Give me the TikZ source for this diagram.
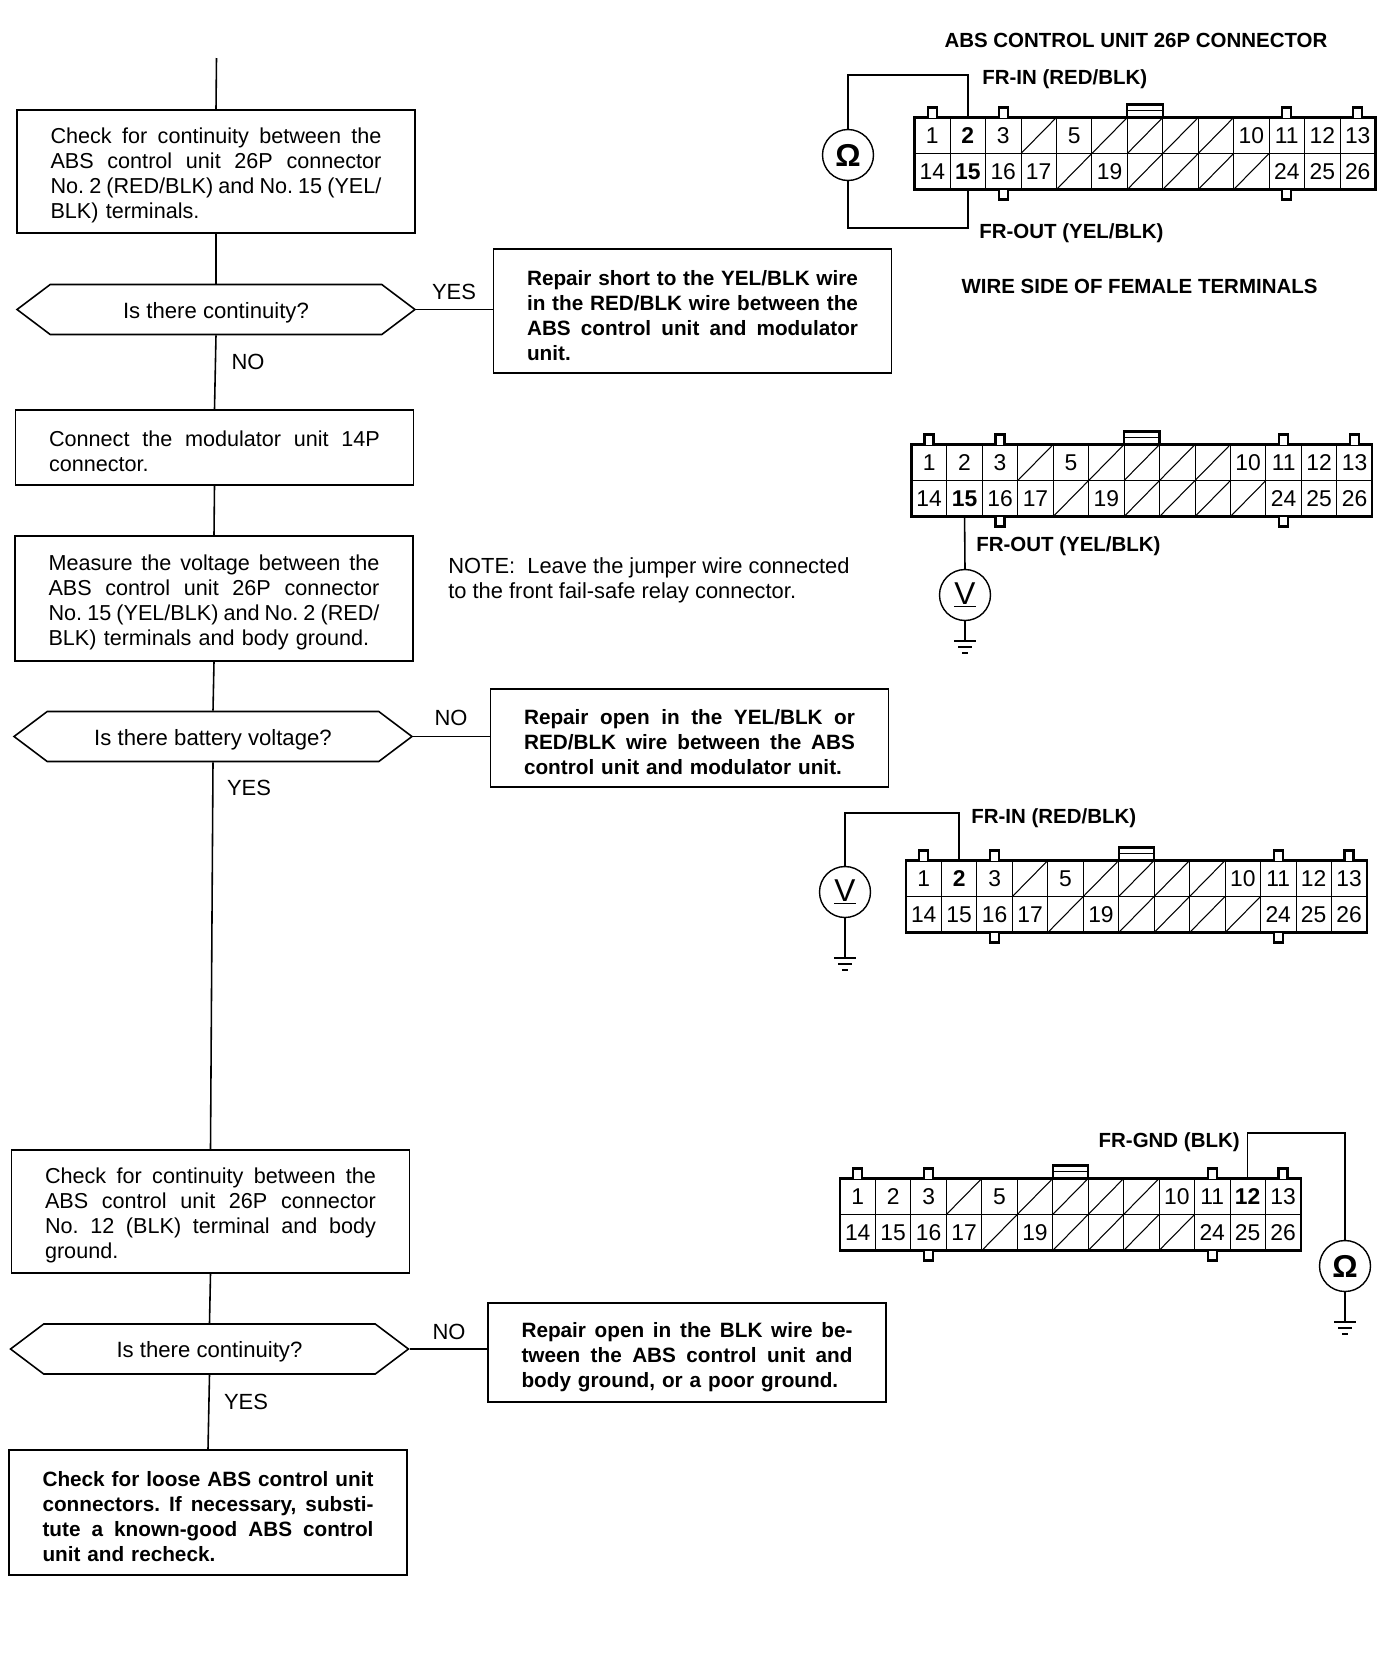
\documentclass[tikz,border=0pt]{standalone}
\usepackage{fontspec}
\setmainfont{Liberation Sans}
\usetikzlibrary{shapes.symbols}

\newcommand{\fl}[1]{\leavevmode\hbox to 6.62cm{\spaceskip=.28em plus 1em minus .1em #1}}

\tikzset{
  flowbox/.style={draw,line width=.9pt,minimum width=7.96cm,inner ysep=0pt,inner xsep=.67cm,text width=6.62cm,align=left,execute at begin node={\frenchspacing\rule{0pt}{13.5pt}},font=\fontsize{12.3}{14.2}\selectfont},
  fixbox/.style={flowbox,font=\fontsize{11.8}{14.2}\selectfont\bfseries},
  askbox/.style={draw,line width=.9pt,shape=signal,signal to=east and west,signal pointer angle=74,minimum width=7.96cm,minimum height=1cm,inner sep=0pt,text height=13pt,text depth=3pt,font=\fontsize{12.6}{14}\selectfont},
  flowline/.style={line width=.9pt},
  answer/.style={font=\fontsize{12.5}{14}\selectfont},
  pinlabel/.style={font=\fontsize{11.65}{14}\selectfont\bfseries,inner sep=0pt},
  cellbox/.style={draw,line width=.5pt,minimum width=.709cm,minimum height=.72cm,inner sep=0pt,outer sep=0pt,font=\fontsize{13}{14}\selectfont},
  shell/.style={line width=1.3pt},
  meter/.style={draw,circle,line width=.8pt,minimum size=1.02cm,inner sep=0pt,font=\fontsize{18}{18}\selectfont},
  wire/.style={line width=.9pt},
}

\newcommand{\absconn}[5]{%
  \foreach \n/\lab in {1/1,2/2,3/3,4/{},5/5,6/{},7/{},8/{},9/{},10/10,11/11,12/12,13/13,14/14,15/15,16/16,17/17,18/{},19/19,20/{},21/{},22/{},23/{},24/24,25/25,26/26}{
    \pgfmathtruncatemacro{\row}{(\n-1)/13}
    \pgfmathtruncatemacro{\col}{\n-1-13*\row}
    \node[cellbox] (#1-\n) at ({#2+(\col+.5)*35.45},{#3+(\row+.5)*36}) {\ifnum\n=#4 \bfseries\fi\ifnum\n=#5 \bfseries\fi\lab};
  }
  \foreach \n in {4,6,7,8,9,18,20,21,22,23}
    \draw[line width=.6pt] (#1-\n.south west) -- (#1-\n.north east);
  \draw[shell] (#1-1.north west) rectangle (#1-26.south east);
  \foreach \n in {1,3,11,13}
    \draw[shell,fill=white] (#1-\n.north) ++(-4.5,0) -- ++(0,-10) -- ++(9,0) -- ++(0,10);
  \foreach \n in {16,24}
    \draw[shell,fill=white] (#1-\n.south) ++(-4.5,0) -- ++(0,10) -- ++(9,0) -- ++(0,-10);
  \draw[shell] (#1-7.north west) -- ++(0,-13) -| (#1-7.north east);
  \draw[line width=.7pt] (#1-7.north west) ++(0,-7) -- ++(35.45,0);
}

\newcommand{\gndsym}[1]{%
  \draw[wire] (#1) ++(-11,0) -- ++(22,0);
  \draw[wire] (#1) ++(-7,6) -- ++(14,0);
  \draw[wire] (#1) ++(-3,12) -- ++(6,0);
}

\begin{document}
\begin{tikzpicture}[x=.02cm,y=-.02cm]
\useasboundingbox[fill=white] (0,0) rectangle (1392,1664);

\coordinate (start) at (216.5,58);
\node[flowbox,minimum height=2.46cm] (boxa) at (216,171.5) {\fl{Check for continuity between the}\\\fl{ABS control unit 26P connector}\\\fl{No. 2 (RED/BLK) and No. 15 (YEL/}\\BLK) terminals.};
\node[askbox] (aska) at (216,309.5) {Is there continuity?};
\node[fixbox,minimum height=2.48cm] (fixa) at (692.5,311) {\fl{Repair short to the YEL/BLK wire}\\\fl{in the RED/BLK wire between the}\\\fl{ABS control unit and modulator}\\unit.};
\node[flowbox,minimum height=1.5cm] (boxb) at (214.5,447.5) {\fl{Connect the modulator unit 14P}\\connector.};
\node[flowbox,minimum height=2.5cm] (boxc) at (214,598.5) {\fl{Measure the voltage between the}\\\fl{ABS control unit 26P connector}\\\fl{No. 15 (YEL/BLK) and No. 2 (RED/}\\BLK) terminals and body ground.};
\node[askbox] (askb) at (213,736.5) {Is there battery voltage?};
\node[fixbox,minimum height=1.96cm] (fixb) at (689.5,738) {\fl{Repair open in the YEL/BLK or}\\\fl{RED/BLK wire between the ABS}\\control unit and modulator unit.};
\node[flowbox,minimum height=2.46cm] (boxd) at (210.5,1211.5) {\fl{Check for continuity between the}\\\fl{ABS control unit 26P connector}\\\fl{No. 12 (BLK) terminal and body}\\ground.};
\node[askbox] (askc) at (209.5,1349) {Is there continuity?};
\node[fixbox,minimum height=1.98cm] (fixc) at (687,1352.5) {\fl{Repair open in the BLK wire be-}\\\fl{tween the ABS control unit and}\\body ground, or a poor ground.};
\node[fixbox,minimum height=2.5cm] (fixd) at (208,1512.5) {\fl{Check for loose ABS control unit}\\\fl{connectors. If necessary, substi-}\\\fl{tute a known-good ABS control}\\unit and recheck.};

\draw[flowline] (start) -- (boxa.north);
\draw[flowline] (boxa.south) -- (aska.north);
\draw[flowline] (aska.south) -- (boxb.north);
\draw[flowline] (boxb.south) -- (boxc.north);
\draw[flowline] (boxc.south) -- (askb.north);
\draw[flowline] (askb.south) -- (boxd.north);
\draw[flowline] (boxd.south) -- (askc.north);
\draw[flowline] (askc.south) -- (fixd.north);
\draw[flowline] (aska.east) -- (aska.east -| fixa.west);
\draw[flowline] (askb.east) -- (askb.east -| fixb.west);
\draw[flowline] (askc.east) -- (askc.east -| fixc.west);

\node[answer] (yesa) at (454,292) {YES};
\node[answer] (noa) at (248,362) {NO};
\node[answer] (nob) at (451,718) {NO};
\node[answer] (yesb) at (249,788) {YES};
\node[answer] (noc) at (449,1331.5) {NO};
\node[answer] (yesc) at (246,1401.5) {YES};

\node[font=\fontsize{12.45}{14.2}\selectfont,align=left,inner sep=0pt,anchor=west] (note) at (448,580) {NOTE:\ \ Leave the jumper wire connected\\to the front fail-safe relay connector.};

\node[pinlabel] (title) at (1136,40) {ABS CONTROL UNIT 26P CONNECTOR};
\node[pinlabel] (side) at (1139.5,286) {WIRE SIDE OF FEMALE TERMINALS};

\absconn{a}{914.6}{117.5}{2}{15}
\absconn{b}{911.4}{444.5}{15}{0}
\absconn{c}{906}{860.5}{2}{0}
\absconn{d}{840}{1178.5}{12}{0}

\node[meter] (ohma) at (848,155) {\textbf{Ω}};
\coordinate (ina) at (a-2.north |- 0,75);
\coordinate (outa) at (a-15.south |- 0,228);
\draw[wire] (ohma.north) |- (ina) -- (a-2.north);
\draw[wire] (ohma.south) |- (outa) -- (a-15.south);
\node[pinlabel,anchor=west] (fra) at (982,79.5) {FR-IN (RED/BLK)};
\node[pinlabel,anchor=west] (frb) at (979,233) {FR-OUT (YEL/BLK)};

\node[meter] (volta) at (965,595) {\underline{V}};
\coordinate (gnda) at (965,641);
\draw[wire] (b-15.south) -- (volta.north);
\draw[wire] (volta.south) -- (gnda);
\gndsym{gnda}
\node[pinlabel,anchor=west] (frc) at (976,546) {FR-OUT (YEL/BLK)};

\node[meter] (voltb) at (845,892) {\underline{V}};
\coordinate (inc) at (c-2.north |- 0,813);
\coordinate (gndb) at (845,958);
\draw[wire] (voltb.north) |- (inc) -- (c-2.north);
\draw[wire] (voltb.south) -- (gndb);
\gndsym{gndb}
\node[pinlabel,anchor=west] (frd) at (971,818) {FR-IN (RED/BLK)};

\node[meter] (ohmb) at (1345,1266) {\textbf{Ω}};
\coordinate (ind) at (d-12.north |- 0,1133);
\coordinate (gndc) at (1345,1322);
\draw[wire] (d-12.north) -- (ind) -| (ohmb.north);
\draw[wire] (ohmb.south) -- (gndc);
\gndsym{gndc}
\node[pinlabel,anchor=east] (fre) at (1240,1142) {FR-GND (BLK)};
\end{tikzpicture}
\end{document}
